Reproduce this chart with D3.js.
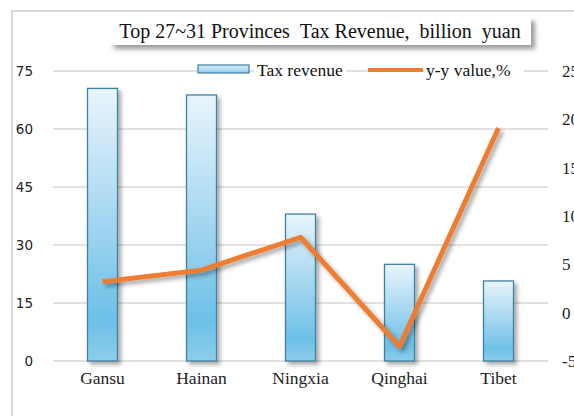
<!DOCTYPE html>
<html><head><meta charset="utf-8">
<script src="https://cdn.jsdelivr.net/npm/d3@7/dist/d3.min.js"></script>
<style>body{margin:0;background:#fff;overflow:hidden}svg{display:block}</style>
</head><body>
<script>
const categories = ["Gansu","Hainan","Ningxia","Qinghai","Tibet"];
const taxRevenue = [70.5, 68.8, 38.0, 25.0, 20.7];
const yyValue = [3.2, 4.4, 7.8, -3.5, 19.1];
const leftTicks = [0,15,30,45,60,75];
const rightTicks = [-5,0,5,10,15,20,25];
const titleText = "Top 27~31 Provinces\u00a0\u00a0Tax Revenue,\u00a0\u00a0billion\u00a0\u00a0yuan";
const legendLabels = ["Tax revenue","y-y value,%"];

const W=574,H=416;
const serif="Liberation Serif, Times New Roman, serif";
const svg=d3.select("body").append("svg").attr("width",W).attr("height",H);
const defs=svg.append("defs");
const g1=defs.append("linearGradient").attr("id","barG").attr("x1",0).attr("y1",0).attr("x2",0).attr("y2",1);
g1.append("stop").attr("offset","0%").attr("stop-color","#e9f5fc");
g1.append("stop").attr("offset","45%").attr("stop-color","#a9d8f1");
g1.append("stop").attr("offset","85%").attr("stop-color","#6dc0e7");
g1.append("stop").attr("offset","100%").attr("stop-color","#8ecdec");
const lg=defs.append("linearGradient").attr("id","legG").attr("x1",0).attr("y1",0).attr("x2",0).attr("y2",1);
lg.append("stop").attr("offset","0%").attr("stop-color","#dff0fa");
lg.append("stop").attr("offset","100%").attr("stop-color","#8ccbec");
const sh=defs.append("filter").attr("id","sh").attr("x","-30%").attr("y","-30%").attr("width","160%").attr("height","160%");
sh.append("feDropShadow").attr("dx",3).attr("dy",3).attr("stdDeviation",2).attr("flood-color","#000").attr("flood-opacity",0.35);
const sh2=defs.append("filter").attr("id","sh2").attr("x","-10%").attr("y","-50%").attr("width","130%").attr("height","250%");
sh2.append("feDropShadow").attr("dx",4).attr("dy",4).attr("stdDeviation",2.5).attr("flood-color","#000").attr("flood-opacity",0.4);

// frame
svg.append("rect").attr("x",12).attr("y",11).attr("width",600).attr("height",430)
  .attr("fill","#fff").attr("stroke","#d9d9d9").attr("stroke-width",2);

const x0=53,x1=548;
const x=d3.scaleBand().domain(categories).range([x0,x1]);
const yL=d3.scaleLinear().domain([0,75]).range([361,71]);
const yR=d3.scaleLinear().domain([-5,25]).range([361,71]);

// gridlines
svg.append("g").selectAll("line").data(leftTicks).join("line")
  .attr("x1",x0).attr("x2",x1).attr("y1",d=>yL(d)).attr("y2",d=>yL(d))
  .attr("stroke","#d9d9d9").attr("stroke-width",1.5);

// left axis labels
const axL=svg.append("g").attr("transform",`translate(${x0},0)`)
  .call(d3.axisLeft(yL).tickValues(leftTicks).tickFormat(d=>String(d)).tickSize(0).tickPadding(20));
axL.select(".domain").remove();
axL.selectAll("text").attr("font-family","DejaVu Sans, Verdana, sans-serif").attr("font-size",13.5).attr("fill","#222");

// right axis labels
const axR=svg.append("g").attr("transform",`translate(${x1},0)`)
  .call(d3.axisRight(yR).tickValues(rightTicks).tickFormat(d=>String(d)).tickSize(0).tickPadding(14));
axR.select(".domain").remove();
axR.selectAll("text").attr("font-family",serif).attr("font-size",17).attr("fill","#222");

// category axis
const axB=svg.append("g").attr("transform",`translate(0,361)`)
  .call(d3.axisBottom(x).tickSize(0).tickPadding(11));
axB.select(".domain").remove();
axB.selectAll("text").attr("font-family",serif).attr("font-size",17.5).attr("fill","#222");

// bars
const bw=30;
svg.append("g").selectAll("rect").data(categories).join("rect")
  .attr("x",(d)=>x(d)+x.bandwidth()/2-bw/2).attr("width",bw)
  .attr("y",(d,i)=>yL(taxRevenue[i])).attr("height",(d,i)=>yL(0)-yL(taxRevenue[i]))
  .attr("fill","url(#barG)").attr("stroke","#41809f").attr("stroke-width",1.3)
  .attr("filter","url(#sh)");

// line
const line=d3.line().x((d,i)=>x(categories[i])+x.bandwidth()/2).y(d=>yR(d));
svg.append("path").datum(yyValue).attr("d",line).attr("fill","none")
  .attr("stroke","#ed7d31").attr("stroke-width",5).attr("stroke-linejoin","round")
  .attr("filter","url(#sh)");

// title box
svg.append("rect").attr("x",110).attr("y",17).attr("width",421).attr("height",28)
  .attr("fill","#fff").attr("filter","url(#sh2)");
svg.append("text").attr("x",320).attr("y",38).attr("text-anchor","middle")
  .attr("font-family",serif).attr("font-size",20).attr("fill","#111")
  .text(titleText);

// legend
const leg=svg.append("g");
leg.append("rect").attr("x",254).attr("y",62).attr("width",92).attr("height",18).attr("fill","#fff");
leg.append("rect").attr("x",424).attr("y",62).attr("width",100).attr("height",18).attr("fill","#fff");
leg.append("rect").attr("x",198).attr("y",65).attr("width",51).attr("height",8)
  .attr("fill","url(#legG)").attr("stroke","#41809f").attr("stroke-width",1.2);
leg.append("text").attr("x",257).attr("y",76).attr("font-family",serif)
  .attr("font-size",17.5).attr("fill","#111").text(legendLabels[0]);
leg.append("line").attr("x1",368).attr("x2",423).attr("y1",70).attr("y2",70)
  .attr("stroke","#ed7d31").attr("stroke-width",4);
leg.append("text").attr("x",426).attr("y",76).attr("font-family",serif)
  .attr("font-size",17.5).attr("fill","#111").text(legendLabels[1]);
</script>
</body></html>
